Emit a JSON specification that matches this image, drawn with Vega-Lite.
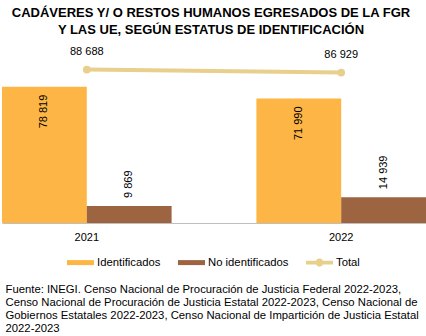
{
  "$schema": "https://vega.github.io/schema/vega-lite/v6.json",
  "width": 424,
  "height": 173,
  "autosize": {"type": "none"},
  "padding": {"left": 2, "top": 50, "right": 0, "bottom": 113},
  "config": {
    "font": "Liberation Sans",
    "view": {"stroke": null},
    "locale": {"number": {"decimal": ".", "thousands": " ", "grouping": [3], "currency": ["$", ""]}}
  },
  "title": {
    "text": ["CADÁVERES Y/ O RESTOS HUMANOS EGRESADOS DE LA FGR", "Y LAS UE, SEGÚN ESTATUS DE IDENTIFICACIÓN"],
    "font": "Liberation Sans",
    "fontSize": 13,
    "fontWeight": "bold",
    "color": "#000000",
    "anchor": "middle",
    "lineHeight": 17,
    "offset": 9,
    "dx": -3
  },
  "data": {
    "values": [
      {"year": "2021", "category": "Identificados", "value": 78819},
      {"year": "2021", "category": "No identificados", "value": 9869},
      {"year": "2022", "category": "Identificados", "value": 71990},
      {"year": "2022", "category": "No identificados", "value": 14939},
      {"year": "2021", "category": "Total", "value": 88688},
      {"year": "2022", "category": "Total", "value": 86929}
    ]
  },
  "encoding": {
    "x": {
      "field": "year",
      "type": "nominal",
      "scale": {"paddingInner": 0.3333, "paddingOuter": 0},
      "axis": {
        "title": [
          "Fuente: INEGI. Censo Nacional de Procuración de Justicia Federal 2022-2023,",
          "Censo Nacional de Procuración de Justicia Estatal 2022-2023, Censo Nacional de",
          "Gobiernos Estatales 2022-2023, Censo Nacional de Impartición de Justicia Estatal",
          "2022-2023"
        ],
        "labelAngle": 0,
        "labelFontSize": 11,
        "labelColor": "#000000",
        "labelPadding": 8,
        "ticks": false,
        "domainColor": "#BFBFBF",
        "domainWidth": 1,
        "titleAnchor": "start",
        "titleAlign": "left",
        "titleBaseline": "top",
        "titleFontSize": 11.3,
        "titleFontWeight": "normal",
        "titleColor": "#000000",
        "titleLineHeight": 13.3,
        "titlePadding": 41,
        "titleX": 3
      }
    },
    "y": {"field": "value", "type": "quantitative", "scale": {"domain": [0, 100000]}, "axis": null}
  },
  "layer": [
    {
      "transform": [{"filter": "datum.category !== 'Total'"}],
      "mark": {"type": "bar"},
      "encoding": {
        "xOffset": {"field": "category", "type": "nominal", "scale": {"domain": ["Identificados", "No identificados"], "paddingInner": 0, "paddingOuter": 0}},
        "color": {
          "field": "category",
          "type": "nominal",
          "scale": {"domain": ["Identificados", "No identificados", "Total"], "range": ["#FDB645", "#9C6441", "#E8CF8C"]},
          "legend": {
            "orient": "none",
            "direction": "horizontal",
            "legendX": 65,
            "legendY": 199,
            "title": null,
            "symbolSize": 729,
            "symbolStrokeWidth": 0,
            "labelFontSize": 11.3,
            "labelColor": "#000000",
            "labelOffset": 3,
            "columnPadding": 17,
            "encode": {
              "symbols": {
                "update": {
                  "shape": {"signal": "datum.value === 'Total' ? 'M-1,-0.14H1V0.14H-1Z M0.3,0A0.3,0.3 0 1,1 -0.3,0A0.3,0.3 0 1,1 0.3,0Z' : 'M-1,-0.185H1V0.185H-1Z'"},
                  "fill": {"signal": "scale('color', datum.value)"},
                  "opacity": {"value": 1},
                  "strokeWidth": {"value": 0}
                }
              }
            }
          }
        }
      }
    },
    {
      "transform": [{"filter": "datum.category === 'Identificados'"}],
      "mark": {"type": "text", "angle": 270, "align": "right", "baseline": "middle", "dx": -8, "fontSize": 11, "color": "#000000"},
      "encoding": {
        "xOffset": {"field": "category", "type": "nominal"},
        "text": {"field": "value", "type": "quantitative", "format": ",d"}
      }
    },
    {
      "transform": [{"filter": "datum.category === 'No identificados'"}],
      "mark": {"type": "text", "angle": 270, "align": "left", "baseline": "middle", "dx": 8, "fontSize": 11, "color": "#000000"},
      "encoding": {
        "xOffset": {"field": "category", "type": "nominal"},
        "text": {"field": "value", "type": "quantitative", "format": ",d"}
      }
    },
    {
      "transform": [{"filter": "datum.category === 'Total'"}],
      "mark": {"type": "line", "strokeWidth": 4, "point": {"filled": true, "size": 60}},
      "encoding": {
        "color": {"field": "category", "type": "nominal"}
      }
    },
    {
      "transform": [{"filter": "datum.category === 'Total'"}],
      "mark": {"type": "text", "align": "center", "baseline": "middle", "dy": -18, "fontSize": 11, "color": "#000000"},
      "encoding": {
        "text": {"field": "value", "type": "quantitative", "format": ",d"}
      }
    }
  ]
}
